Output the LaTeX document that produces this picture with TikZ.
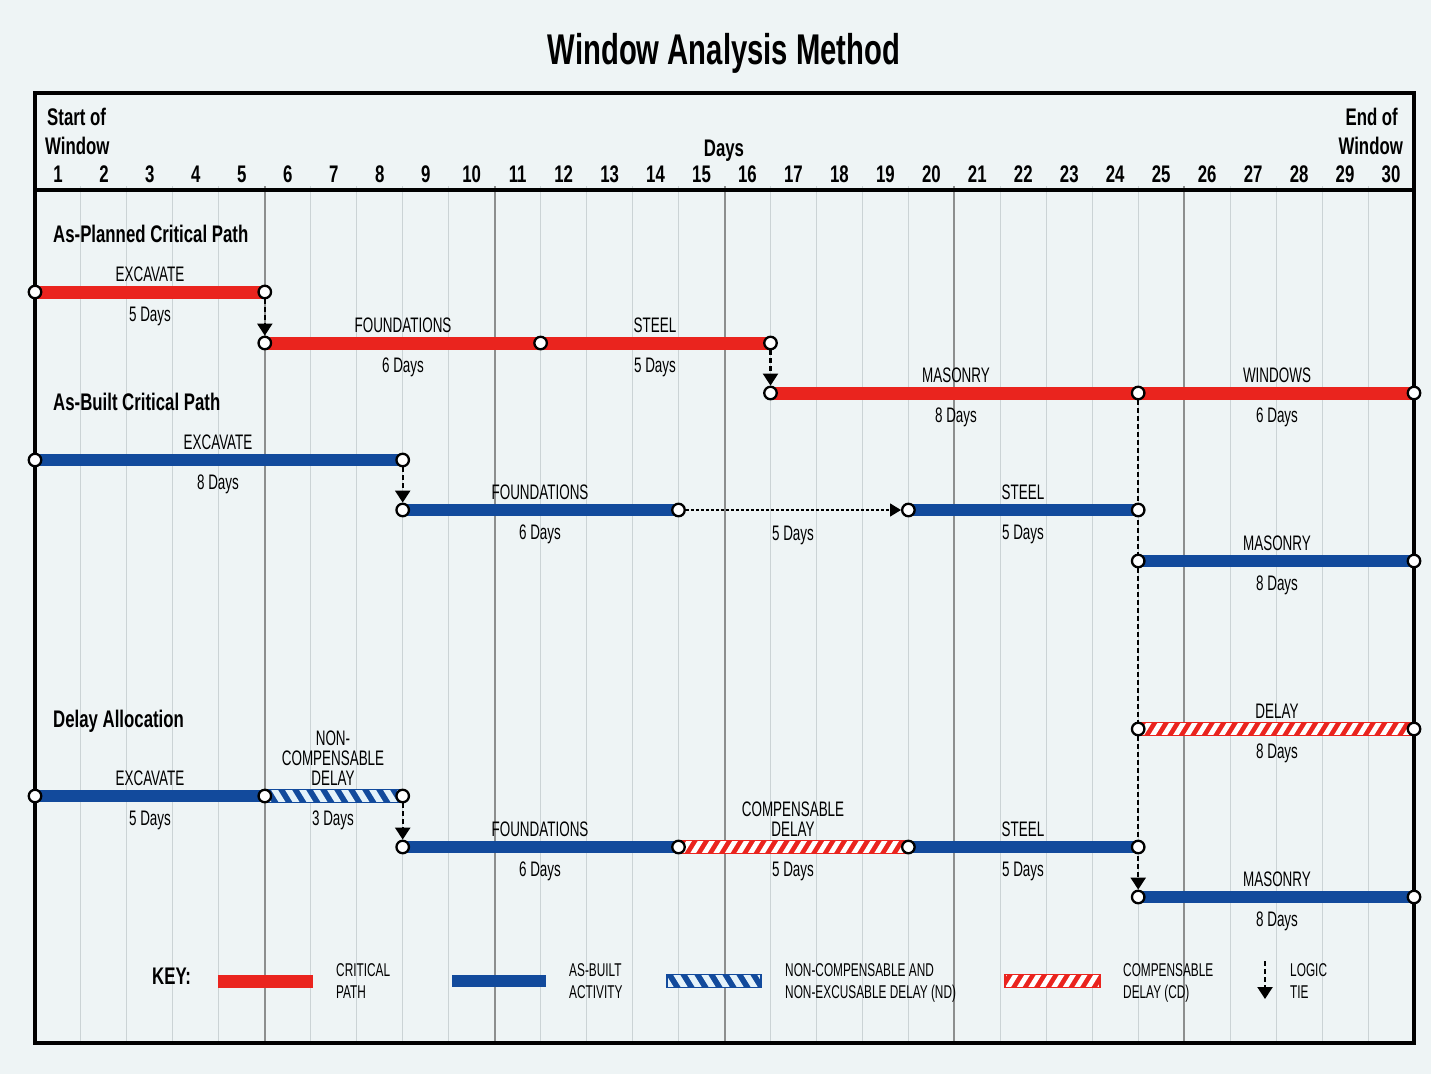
\documentclass[tikz,border=0pt]{standalone}
\usepackage{fontspec}
\setmainfont{Liberation Sans}
\newfontfamily\lblf[FakeStretch=0.64]{Liberation Sans}
\newfontfamily\hdf[FakeStretch=0.70]{Liberation Sans}
\newfontfamily\ttlf[FakeStretch=0.68]{Liberation Sans}
\usetikzlibrary{arrows.meta}
\pgfdeclarelayer{gridlayer}
\pgfdeclarelayer{barlayer}
\pgfsetlayers{gridlayer,barlayer,main}
\definecolor{cpred}{RGB}{234,36,30}
\definecolor{cpblue}{RGB}{18,74,156}
\definecolor{bgc}{RGB}{238,244,245}
\definecolor{gridl}{RGB}{203,211,213}
\definecolor{gridd}{RGB}{140,142,142}
\definecolor{hatchlt}{RGB}{228,242,250}
\newcommand\hatchbar[7]{%
  \begin{scope}
    \clip (#1,#3-6.5) rectangle (#2,#3+6.5);
    \fill[#4] (#1,#3-6.5) rectangle (#2,#3+6.5);
    \foreach \k in {-2,...,26}{
      \fill[#5] (#1+#7*\k,#3+6.5) -- ++(#7/2,0) -- ++(#6*8,-13) -- ++(-#7/2,0) -- cycle;
    }
  \end{scope}
  \draw[#4, line width=1.5pt] (#1,#3-6.5) rectangle (#2,#3+6.5);}
\begin{document}
\begin{tikzpicture}[x=1pt,y=-1pt,
  pt/.style={circle, draw=black, fill=white, line width=2.3pt, inner sep=0pt, minimum size=12.5pt},
  redbar/.style={draw=cpred, line width=13pt},
  bluebar/.style={draw=cpblue, line width=12pt},
  tie/.style={draw=black, line width=2.2pt, dash pattern=on 5pt off 3pt, -{Triangle[width=15pt,length=12pt]}},
  gaptie/.style={draw=black, line width=1.4pt, dash pattern=on 3pt off 2pt, -{Triangle[width=13pt,length=11pt]}},
  lbl/.style={font=\lblf\fontsize{21}{21}\selectfont, inner sep=0pt, anchor=base},
  hd/.style={font=\hdf\bfseries\fontsize{24}{24}\selectfont, inner sep=0pt, anchor=base west},
  hde/.style={font=\hdf\bfseries\fontsize{24}{24}\selectfont, inner sep=0pt, anchor=base east},
  day/.style={font=\hdf\bfseries\fontsize{24}{24}\selectfont, inner sep=0pt, anchor=base},
  keyt/.style={font=\lblf\fontsize{18.5}{18.5}\selectfont, inner sep=0pt, anchor=base west}]
\useasboundingbox (0,0) rectangle (1431,1074);
\begin{pgfonlayer}{gridlayer}
  \fill[bgc] (0,0) rectangle (1431,1074);
  \foreach \k in {1,...,29}{\draw[gridl, line width=1pt] ({35+45.967*\k},186) -- ({35+45.967*\k},1043);}
  \foreach \k in {5,10,15,20,25}{\draw[gridd, line width=2pt] ({35+45.967*\k},186) -- ({35+45.967*\k},1043);}
\end{pgfonlayer}
% frame
\draw[line width=4pt] (35,93) rectangle (1414,1043);
\draw[line width=4pt] (35,190) -- (1414,190);
% title and header
\node[font=\ttlf\bfseries\fontsize{43}{43}\selectfont, inner sep=0pt, anchor=base] (title) at (724,64) {Window Analysis Method};
\node[hd] (start1) at (47,125) {Start of};
\node[hd] (start2) at (45,154) {Window};
\node[hde] (end1) at (1398,125) {End of};
\node[hde] (end2) at (1403,154) {Window};
\node[day] (days) at (724,156) {Days};
\foreach \k in {1,...,30}{\node[day] (d\k) at ({35+45.967*(\k-0.5)},182) {\k};}
% section headings
\node[hd] (h1) at (53,242) {As-Planned Critical Path};
\node[hd] (h2) at (53,410) {As-Built Critical Path};
\node[hd] (h3) at (53,727) {Delay Allocation};
% coordinates
\coordinate (pe0) at (35,292); \coordinate (pe1) at (264.8,292);
\coordinate (pf0) at (264.8,343); \coordinate (pf1) at (540.6,343); \coordinate (ps1) at (770.5,343);
\coordinate (pm0) at (770.5,393); \coordinate (pm1) at (1138.2,393); \coordinate (pw1) at (1414,393);
\coordinate (be0) at (35,460); \coordinate (be1) at (402.7,460);
\coordinate (bf0) at (402.7,510); \coordinate (bf1) at (678.5,510);
\coordinate (bs0) at (908.4,510); \coordinate (bs1) at (1138.2,510);
\coordinate (bm0) at (1138.2,561); \coordinate (bm1) at (1414,561);
\coordinate (de0) at (35,796); \coordinate (de1) at (264.8,796); \coordinate (dn1) at (402.7,796);
\coordinate (df0) at (402.7,847); \coordinate (df1) at (678.5,847); \coordinate (dc1) at (908.4,847); \coordinate (ds1) at (1138.2,847);
\coordinate (dd0) at (1138.2,729); \coordinate (dd1) at (1414,729);
\coordinate (dm0) at (1138.2,897); \coordinate (dm1) at (1414,897);
% circles
\foreach \c in {pe0,pe1,pf0,pf1,ps1,pm0,pm1,pw1,be0,be1,bf0,bf1,bs0,bs1,bm0,bm1,de0,de1,dn1,df0,df1,dc1,ds1,dd0,dd1,dm0,dm1}{
  \node[pt] (n\c) at (\c) {};}
% bars and ties
\begin{pgfonlayer}{barlayer}
  \draw[redbar] (pe0) -- (pe1);
  \draw[redbar] (pf0) -- (pf1);
  \draw[redbar] (pf1) -- (ps1);
  \draw[redbar] (pm0) -- (pm1);
  \draw[redbar] (pm1) -- (pw1);
  \draw[bluebar] (be0) -- (be1);
  \draw[bluebar] (bf0) -- (bf1);
  \draw[bluebar] (bs0) -- (bs1);
  \draw[bluebar] (bm0) -- (bm1);
  \draw[bluebar] (de0) -- (de1);
  \hatchbar{264.8}{402.7}{796}{cpblue}{hatchlt}{-1}{14}
  \draw[bluebar] (df0) -- (df1);
  \hatchbar{678.5}{908.4}{847}{cpred}{white}{1}{11.5}
  \draw[bluebar] (dc1) -- (ds1);
  \hatchbar{1138.2}{1414}{729}{cpred}{white}{1}{11.5}
  \draw[bluebar] (dm0) -- (dm1);
  \draw[tie] (npe1) -- (npf0);
  \draw[tie] (nps1) -- (npm0);
  \draw[tie] (nbe1) -- (nbf0);
  \draw[gaptie] (nbf1) -- (nbs0);
  \draw[tie] (npm1) -- (ndm0);
  \draw[tie] (ndn1) -- (ndf0);
\end{pgfonlayer}
% labels planned
\node[lbl] (l1) at (150,281) {EXCAVATE};
\node[lbl] (l2) at (150,321) {5 Days};
\node[lbl] (l3) at (403,332) {FOUNDATIONS};
\node[lbl] (l4) at (403,372) {6 Days};
\node[lbl] (l5) at (655,332) {STEEL};
\node[lbl] (l6) at (655,372) {5 Days};
\node[lbl] (l7) at (956,382) {MASONRY};
\node[lbl] (l8) at (956,422) {8 Days};
\node[lbl] (l9) at (1277,382) {WINDOWS};
\node[lbl] (l10) at (1277,422) {6 Days};
% labels as-built
\node[lbl] (m1) at (218,449) {EXCAVATE};
\node[lbl] (m2) at (218,489) {8 Days};
\node[lbl] (m3) at (540,499) {FOUNDATIONS};
\node[lbl] (m4) at (540,539) {6 Days};
\node[lbl] (m5) at (793,540) {5 Days};
\node[lbl] (m6) at (1023,499) {STEEL};
\node[lbl] (m7) at (1023,539) {5 Days};
\node[lbl] (m8) at (1277,550) {MASONRY};
\node[lbl] (m9) at (1277,590) {8 Days};
% labels delay allocation
\node[lbl] (q1) at (1277,718) {DELAY};
\node[lbl] (q2) at (1277,758) {8 Days};
\node[lbl] (q3) at (150,785) {EXCAVATE};
\node[lbl] (q4) at (150,825) {5 Days};
\node[lbl] (q5) at (333,745) {NON-};
\node[lbl] (q6) at (333,765) {COMPENSABLE};
\node[lbl] (q7) at (333,785) {DELAY};
\node[lbl] (q8) at (333,825) {3 Days};
\node[lbl] (q9) at (540,836) {FOUNDATIONS};
\node[lbl] (q10) at (540,876) {6 Days};
\node[lbl] (q11) at (793,816) {COMPENSABLE};
\node[lbl] (q12) at (793,836) {DELAY};
\node[lbl] (q13) at (793,876) {5 Days};
\node[lbl] (q14) at (1023,836) {STEEL};
\node[lbl] (q15) at (1023,876) {5 Days};
\node[lbl] (q16) at (1277,886) {MASONRY};
\node[lbl] (q17) at (1277,926) {8 Days};
% key
\node[hd] (key) at (152,984) {KEY:};
\coordinate (kr0) at (218,981); \coordinate (kr1) at (313,981);
\coordinate (kb0) at (452,981); \coordinate (kb1) at (546,981);
\draw[redbar] (kr0) -- (kr1);
\draw[bluebar] (kb0) -- (kb1);
\hatchbar{667}{761}{981}{cpblue}{hatchlt}{-1}{14}
\hatchbar{1005}{1100}{981}{cpred}{white}{1}{11.5}
\coordinate (kt0) at (1265,961); \coordinate (kt1) at (1265,999);
\draw[tie] (kt0) -- (kt1);
\node[keyt] (k1) at (336,976) {CRITICAL};
\node[keyt] (k2) at (336,998) {PATH};
\node[keyt] (k3) at (569,976) {AS-BUILT};
\node[keyt] (k4) at (569,998) {ACTIVITY};
\node[keyt] (k5) at (785,976) {NON-COMPENSABLE AND};
\node[keyt] (k6) at (785,998) {NON-EXCUSABLE DELAY (ND)};
\node[keyt] (k7) at (1123,976) {COMPENSABLE};
\node[keyt] (k8) at (1123,998) {DELAY (CD)};
\node[keyt] (k9) at (1290,976) {LOGIC};
\node[keyt] (k10) at (1290,998) {TIE};
\end{tikzpicture}
\end{document}
